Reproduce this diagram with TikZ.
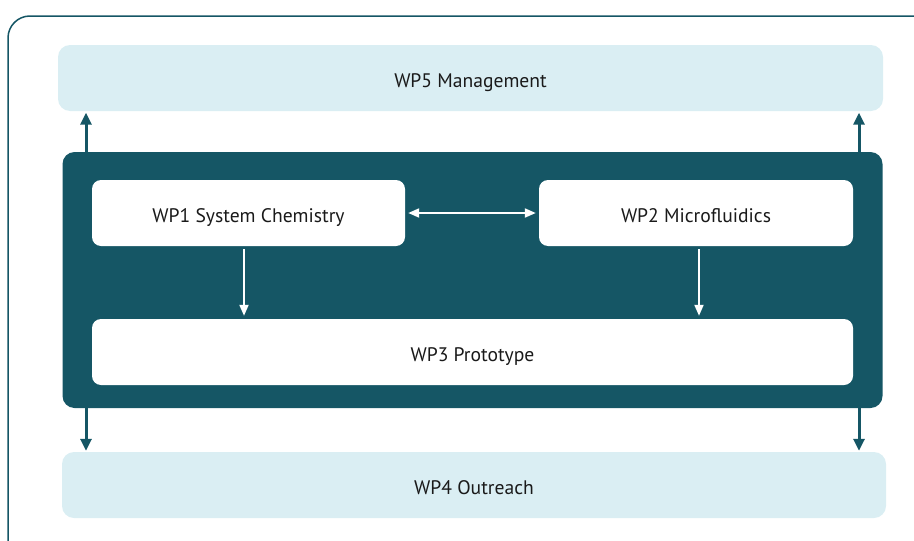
\documentclass[tikz,border=0pt]{standalone}
\usepackage{fontspec}
\setmainfont{PT Sans}
\usetikzlibrary{arrows.meta,calc}
\definecolor{wpteal}{HTML}{155665}
\definecolor{wplight}{HTML}{DAEEF3}
\definecolor{wptext}{HTML}{1A1A1A}
% label whose baseline sits a fixed distance below the box centre
\newcommand{\wplabel}[1]{\raisebox{-9.5pt}[0pt][0pt]{#1}}
\tikzset{
  outerbox/.style={rounded corners=12pt, fill=wplight, draw=none, inner sep=0pt,
    text=wptext, font=\fontsize{19.6}{22}\selectfont},
  corebox/.style={rounded corners=12pt, fill=wpteal, draw=none, inner sep=0pt},
  innerbox/.style={rounded corners=9pt, fill=white, draw=none, inner sep=0pt,
    text=wptext, font=\fontsize{19.6}{22}\selectfont},
  tealarrow/.style={draw=wpteal, line width=3pt, -{Triangle[width=11pt,length=12pt]}},
  whitearrow/.style={draw=white, line width=2pt, -{Triangle[width=9pt,length=11pt]}},
  whitedouble/.style={draw=white, line width=2pt, {Triangle[width=9pt,length=11pt]}-{Triangle[width=9pt,length=11pt]}},
  framebox/.style={draw=wpteal, line width=1.5pt, rounded corners=22pt}
}
\begin{document}
\begin{tikzpicture}[x=1pt,y=-1pt]
\useasboundingbox (0,0) rectangle (914,541);
\clip (0,0) rectangle (914,541);
% surrounding frame, running past the right and bottom edges
\draw[framebox] (8,16) rectangle (950,575);
% work package boxes
\node[outerbox, minimum width=825pt, minimum height=66pt] (wp5) at (470.5,78) {\wplabel{WP5 Management}};
\node[corebox, minimum width=820pt, minimum height=256pt] (core) at (472.5,280) {};
\node[innerbox, minimum width=313pt, minimum height=66pt] (wp1) at (248.5,213) {\wplabel{WP1 System Chemistry}};
\node[innerbox, minimum width=314pt, minimum height=66pt] (wp2) at (696,213) {\wplabel{WP2 Microfluidics}};
\node[innerbox, minimum width=761pt, minimum height=66pt] (wp3) at (472.5,352) {\wplabel{WP3 Prototype}};
\node[outerbox, minimum width=824pt, minimum height=66pt] (wp4) at (474,485) {\wplabel{WP4 Outreach}};
% links between the core and management / outreach
\draw[tealarrow, shorten >=1.5pt] (core.north -| 86,0) -- (wp5.south -| 86,0);
\draw[tealarrow, shorten >=1.5pt] (core.north -| 859,0) -- (wp5.south -| 859,0);
\draw[tealarrow, shorten >=1pt] (core.south -| 86,0) -- (wp4.north -| 86,0);
\draw[tealarrow, shorten >=1pt] (core.south -| 859,0) -- (wp4.north -| 859,0);
% links inside the core
\draw[whitedouble, shorten >=3pt, shorten <=3pt] (wp1.east) -- (wp2.west);
\draw[whitearrow, shorten <=3pt, shorten >=3pt] (wp1.south -| 244,0) -- (wp3.north -| 244,0);
\draw[whitearrow, shorten <=3pt, shorten >=3pt] (wp2.south -| 699,0) -- (wp3.north -| 699,0);
\end{tikzpicture}
\end{document}
